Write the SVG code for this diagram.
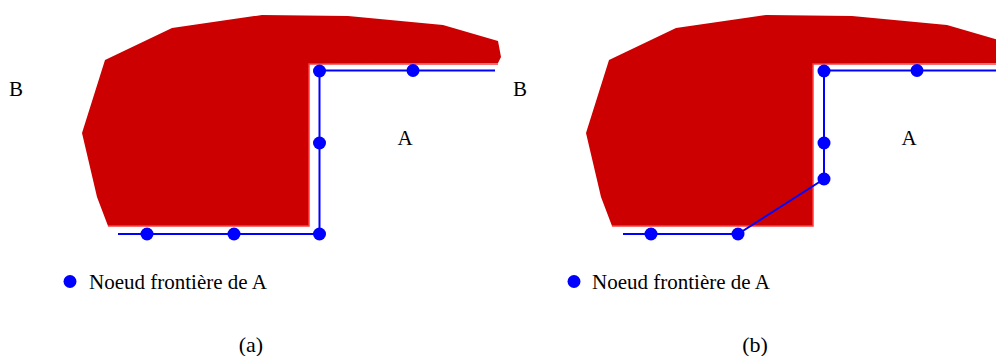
<svg xmlns="http://www.w3.org/2000/svg" width="996" height="356" viewBox="0 0 996 356">
<style>
.reg{fill:#cc0000;stroke:none}
.edge{fill:none;stroke:#ff3c3c;stroke-width:1.5}
.bl{fill:none;stroke:#0000ff;stroke-width:2}
.dot{fill:#0000ff}
.t{font-family:"Liberation Serif","Times New Roman",serif;font-size:21px;fill:#000}
.c{font-size:22px}
</style>
<defs>
<g id="shape">
<polygon class="reg" points="105,60 172,28 262,15 348,16 443,25 498,41 501,57 498,63 309,64 309,226 108,226 97,197 82,133"/>
<polyline class="edge" points="498,64 309,64 309,226 108,226"/>
</g>
</defs>
<rect width="996" height="356" fill="#fff"/>
<g id="panel-a">
<use href="#shape"/>
<g id="connectors-a">
<polyline class="bl" points="495,70.5 319.5,70.5 319.5,234 118,234"/>
</g>
<g id="nodes-a">
<circle class="dot" cx="319.5" cy="71" r="6.5"/>
<circle class="dot" cx="413" cy="70.5" r="6.5"/>
<circle class="dot" cx="319.5" cy="143" r="6.5"/>
<circle class="dot" cx="319.5" cy="234" r="6.5"/>
<circle class="dot" cx="234" cy="234" r="6.5"/>
<circle class="dot" cx="147" cy="234" r="6.5"/>
</g>
<text class="t" x="9" y="96">B</text>
<text class="t" x="405" y="145" text-anchor="middle">A</text>
<g id="legend-a">
<circle class="dot" cx="70" cy="281.5" r="6.5"/>
<text class="t" x="89" y="289">Noeud frontière de A</text>
</g>
<text class="t c" x="251" y="352" text-anchor="middle">(a)</text>
</g>
<g id="panel-b">
<use href="#shape" transform="translate(504,0)"/>
<g id="connectors-b">
<polyline class="bl" points="996,70.5 824,70.5 824,179 738,234 623,234"/>
</g>
<g id="nodes-b">
<circle class="dot" cx="824" cy="71" r="6.5"/>
<circle class="dot" cx="917" cy="70.5" r="6.5"/>
<circle class="dot" cx="824" cy="143" r="6.5"/>
<circle class="dot" cx="824" cy="179" r="6.5"/>
<circle class="dot" cx="738" cy="234" r="6.5"/>
<circle class="dot" cx="651" cy="234" r="6.5"/>
</g>
<text class="t" x="513" y="96">B</text>
<text class="t" x="909" y="145" text-anchor="middle">A</text>
<g id="legend-b">
<circle class="dot" cx="574" cy="281.5" r="6.5"/>
<text class="t" x="592" y="289">Noeud frontière de A</text>
</g>
<text class="t c" x="755" y="352" text-anchor="middle">(b)</text>
</g>
</svg>
